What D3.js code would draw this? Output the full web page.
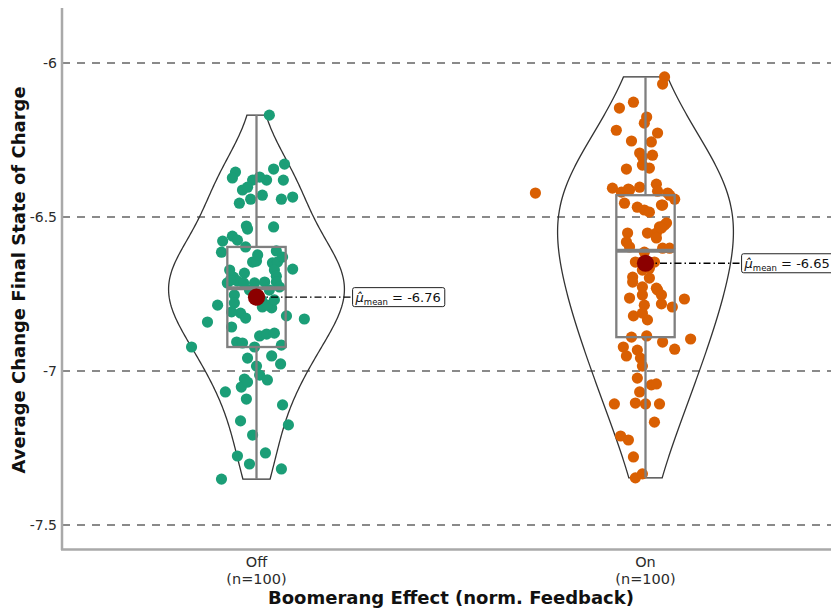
<!DOCTYPE html>
<html>
<head>
<meta charset="utf-8">
<script src="https://cdn.jsdelivr.net/npm/d3@7"></script>
<style>
  body { margin: 0; background: #fff; }
  text { font-family: "DejaVu Sans", sans-serif; }
</style>
</head>
<body>
<div id="chart"></div>
<script>
// ---------------- data ----------------
var categories = ["Off", "On"];
var groupSizes = [100, 100];
var groupColors = ["#1B9E77", "#D95F02"];

var offValues = [
  -6.169, -6.354, -6.373, -6.344, -6.328, -6.380, -6.380, -6.370, -6.380, -6.412,
  -6.403, -6.429, -6.442, -6.455, -6.442, -6.435, -6.529, -6.539, -6.532, -6.578,
  -6.562, -6.575, -6.597, -6.614, -6.610, -6.646, -6.643, -6.649, -6.646, -6.669,
  -6.672, -6.692, -6.695, -6.682, -6.714, -6.708, -6.714, -6.711, -6.711, -6.753,
  -6.786, -6.779, -6.812, -6.808, -6.792, -6.795, -6.786, -6.821, -6.831, -6.841,
  -6.857, -6.886, -6.880, -6.877, -6.906, -6.909, -6.922, -6.916, -6.922, -6.958,
  -6.951, -6.977, -6.984, -7.013, -7.029, -7.026, -7.052, -7.036, -7.068, -7.091,
  -7.110, -7.162, -7.175, -7.208, -7.276, -7.266, -7.302, -7.318, -7.351, -6.705,
  -6.737, -6.737, -6.769, -6.769, -6.828, -6.672, -6.630, -6.727, -6.714, -6.623
];
// horizontal jitter, in category units
var offJitter = [
  0.033, -0.054, -0.062, 0.044, 0.072, 0.069, 0.026, 0.008, -0.010, -0.036,
  -0.023, 0.015, -0.015, -0.044, 0.064, 0.093, -0.026, -0.023, 0.044, -0.087,
  -0.062, -0.049, -0.028, -0.090, 0.051, -0.010, 0.000, 0.041, 0.054, 0.093,
  0.046, 0.051, -0.059, -0.031, -0.075, -0.049, -0.005, 0.021, 0.051, -0.057,
  -0.100, -0.057, -0.041, -0.064, 0.015, 0.039, 0.028, 0.077, 0.123, -0.126,
  -0.064, 0.008, 0.026, 0.046, -0.051, -0.036, -0.005, 0.064, -0.167, -0.023,
  0.039, 0.062, 0.000, 0.008, 0.028, -0.031, -0.039, -0.023, -0.080, -0.026,
  0.067, -0.041, 0.082, -0.010, -0.049, 0.023, -0.018, 0.064, -0.090, -0.067,
  -0.018, 0.033, 0.013, 0.046, -0.028, -0.069, 0.067, 0.059, -0.033, 0.003
];

var onValues = [
  -6.045, -6.068, -6.127, -6.146, -6.175, -6.195, -6.218, -6.227, -6.253, -6.256,
  -6.292, -6.299, -6.305, -6.344, -6.331, -6.341, -6.422, -6.406, -6.409, -6.419,
  -6.403, -6.393, -6.416, -6.422, -6.442, -6.455, -6.468, -6.477, -6.484, -6.461,
  -6.526, -6.532, -6.552, -6.552, -6.552, -6.581, -6.597, -6.601, -6.601, -6.614,
  -6.695, -6.672, -6.698, -6.731, -6.711, -6.727, -6.737, -6.753, -6.763, -6.753,
  -6.766, -6.792, -6.786, -6.782, -6.821, -6.834, -6.812, -6.890, -6.886, -6.906,
  -6.896, -6.929, -6.922, -6.951, -6.932, -6.958, -6.984, -7.023, -7.045, -7.042,
  -7.068, -7.107, -7.104, -7.107, -7.107, -7.166, -7.211, -7.224, -7.279, -7.347,
  -7.334, -6.519, -6.536, -6.568, -6.666, -6.461, -6.429, -6.412, -6.646, -6.646
];
var onJitter = [
  0.049, 0.044, -0.031, -0.067, 0.003, -0.003, -0.075, 0.031, -0.036, 0.015,
  -0.015, 0.018, -0.008, -0.049, -0.008, 0.010, -0.283, -0.085, -0.044, -0.062,
  -0.015, 0.028, 0.031, 0.057, 0.075, -0.054, -0.021, -0.003, 0.010, 0.044,
  0.049, 0.036, 0.028, -0.046, 0.005, -0.049, -0.041, 0.044, 0.062, -0.003,
  -0.033, -0.008, 0.010, 0.028, -0.033, -0.008, 0.031, 0.041, -0.041, -0.008,
  0.100, 0.069, -0.003, 0.041, -0.031, 0.005, -0.008, -0.036, 0.003, 0.044,
  0.116, 0.075, -0.057, -0.049, -0.021, -0.013, -0.008, -0.021, 0.015, 0.028,
  -0.015, -0.080, -0.026, 0.000, 0.036, 0.023, -0.064, -0.044, -0.031, -0.026,
  -0.008, 0.054, 0.041, 0.028, 0.010, 0.041, 0.062, -0.041, -0.026, 0.023
];

// box / mean summaries per group
var groupMeans   = [-6.76, -6.65];
var groupMedians = [-6.731, -6.609];
var groupQ1      = [-6.922, -6.890];
var groupQ3      = [-6.597, -6.429];
var whiskerLow   = [-7.351, -7.347];
var whiskerHigh  = [-6.169, -6.045];

var yTicks = [-7.5, -7, -6.5, -6];
var xTitle = "Boomerang Effect (norm. Feedback)";
var yTitle = "Average Change Final State of Charge";

// ---------------- chart ----------------
var W = 831, H = 609;

var svg = d3.select("#chart").append("svg")
    .attr("width", W).attr("height", H)
    .style("display", "block");

var x = d3.scaleBand().domain(categories).range([62, 840]).padding(0);
var bw = x.bandwidth();
var cx = function (c) { return x(c) + bw / 2; };

var y = d3.scaleLinear().domain([-7.578, -5.821]).range([549, 8]);

// plain hyphen, not the unicode minus d3.format gives
var fmtTick = function (d) { return String(d); };
var fmtMean = function (d) { return d.toFixed(2); };

// gridlines
svg.append("g").selectAll("line").data(yTicks).enter().append("line")
    .attr("x1", 62).attr("x2", W)
    .attr("y1", function (d) { return y(d); }).attr("y2", function (d) { return y(d); })
    .attr("stroke", "#8a8a8a").attr("stroke-width", 2)
    .attr("stroke-dasharray", "8,7");

// y axis (labels only, no ticks)
var yAxis = svg.append("g").attr("transform", "translate(62,0)")
    .call(d3.axisLeft(y).tickValues(yTicks).tickSize(0).tickPadding(5).tickFormat(fmtTick));
yAxis.select(".domain").remove();
yAxis.selectAll("text").attr("font-size", 14).attr("fill", "#2b2b2b")
    .style("font-family", '"DejaVu Sans", sans-serif');

// x axis labels
var xLab = svg.append("g").selectAll("text").data(categories).enter().append("text")
    .attr("x", cx).attr("y", 567)
    .attr("text-anchor", "middle").attr("font-size", 14.5).attr("fill", "#2b2b2b");
xLab.append("tspan").attr("x", cx).text(function (d) { return d; });
xLab.append("tspan").attr("x", cx).attr("dy", 17)
    .text(function (d, i) { return "(n=" + groupSizes[i] + ")"; });

// spines
svg.append("line").attr("x1", 62).attr("x2", 62).attr("y1", 8).attr("y2", 550)
    .attr("stroke", "#a9a9a9").attr("stroke-width", 2.5);
svg.append("line").attr("x1", 61).attr("x2", W).attr("y1", 549.5).attr("y2", 549.5)
    .attr("stroke", "#a9a9a9").attr("stroke-width", 2.5);

// titles
svg.append("text").attr("x", 451).attr("y", 604).attr("text-anchor", "middle")
    .attr("font-size", 18).attr("font-weight", "bold").attr("fill", "#111").text(xTitle);
svg.append("text").attr("transform", "translate(25,280) rotate(-90)")
    .attr("text-anchor", "middle")
    .attr("font-size", 18).attr("font-weight", "bold").attr("fill", "#111").text(yTitle);

var groups = [
  {name: "Off", values: offValues, jitter: offJitter},
  {name: "On", values: onValues, jitter: onJitter}
];

// violins: gaussian kde (nrd0 bandwidth, adjusted), trimmed to data range
var bwAdjust = 1.5;
function nrd0(v) {
  var s = v.slice().sort(d3.ascending);
  var iqr = d3.quantile(s, 0.75) - d3.quantile(s, 0.25);
  return 0.9 * Math.min(d3.deviation(v), iqr / 1.34) * Math.pow(v.length, -0.2);
}
groups.forEach(function (g) {
  var h = nrd0(g.values) * bwAdjust;
  var ext = d3.extent(g.values);
  var grid = d3.range(0, 201).map(function (k) { return ext[0] + (ext[1] - ext[0]) * k / 200; });
  var dens = grid.map(function (t) {
    return [t, d3.mean(g.values, function (v) {
      var u = (t - v) / h; return Math.exp(-0.5 * u * u);
    })];
  });
  var maxD = d3.max(dens, function (d) { return d[1]; });
  var half = 0.226 * bw;
  var c = cx(g.name);
  var area = d3.area()
      .y(function (d) { return y(d[0]); })
      .x0(function (d) { return c - half * d[1] / maxD; })
      .x1(function (d) { return c + half * d[1] / maxD; });
  svg.append("path").attr("d", area(dens) + "Z")
      .attr("fill", "none").attr("stroke", "#333").attr("stroke-width", 1.3);
});

// jittered points
groups.forEach(function (g, gi) {
  svg.append("g").selectAll("circle").data(g.values).enter().append("circle")
      .attr("cx", function (d, i) { return cx(g.name) + g.jitter[i] * bw; })
      .attr("cy", function (d) { return y(d); })
      .attr("r", 5.6)
      .attr("fill", groupColors[gi]);
});

// boxplots
var boxHalf = 0.075 * bw;
categories.forEach(function (c, i) {
  var gx = cx(c);
  var b = svg.append("g").attr("stroke", "#7f7f7f").attr("fill", "none");
  b.append("line").attr("x1", gx).attr("x2", gx)
      .attr("y1", y(whiskerHigh[i])).attr("y2", y(groupQ3[i])).attr("stroke-width", 2.3);
  b.append("line").attr("x1", gx).attr("x2", gx)
      .attr("y1", y(groupQ1[i])).attr("y2", y(whiskerLow[i])).attr("stroke-width", 2.3);
  b.append("rect").attr("x", gx - boxHalf).attr("width", 2 * boxHalf)
      .attr("y", y(groupQ3[i])).attr("height", y(groupQ1[i]) - y(groupQ3[i]))
      .attr("stroke-width", 2.3);
  b.append("line").attr("x1", gx - boxHalf).attr("x2", gx + boxHalf)
      .attr("y1", y(groupMedians[i])).attr("y2", y(groupMedians[i])).attr("stroke-width", 4);
});

// mean points + labels
categories.forEach(function (c, i) {
  var gx = cx(c), gy = y(groupMeans[i]);
  var lx = gx + 0.247 * bw;
  svg.append("line").attr("x1", gx).attr("x2", lx).attr("y1", gy).attr("y2", gy)
      .attr("stroke", "#000").attr("stroke-width", 1.3)
      .attr("stroke-dasharray", "7,3,1.5,3");
  svg.append("circle").attr("cx", gx).attr("cy", gy).attr("r", 8.6).attr("fill", "#8B0000");

  var lab = svg.append("g");
  var rect = lab.append("rect").attr("fill", "#fff").attr("stroke", "#222")
      .attr("stroke-width", 1).attr("rx", 2);
  var t = lab.append("text").attr("x", lx + 3).attr("y", gy + 5)
      .attr("font-size", 13).attr("fill", "#111");
  t.append("tspan").attr("font-style", "italic").text("\u03BC\u0302");
  t.append("tspan").attr("font-size", 8.5).attr("dy", 3).text("mean");
  t.append("tspan").attr("dy", -3).text(" = " + fmtMean(groupMeans[i]));
  var bb = t.node().getBBox();
  rect.attr("x", lx).attr("y", gy - 9.5).attr("width", bb.width + 6).attr("height", 19);
});
</script>
</body>
</html>
